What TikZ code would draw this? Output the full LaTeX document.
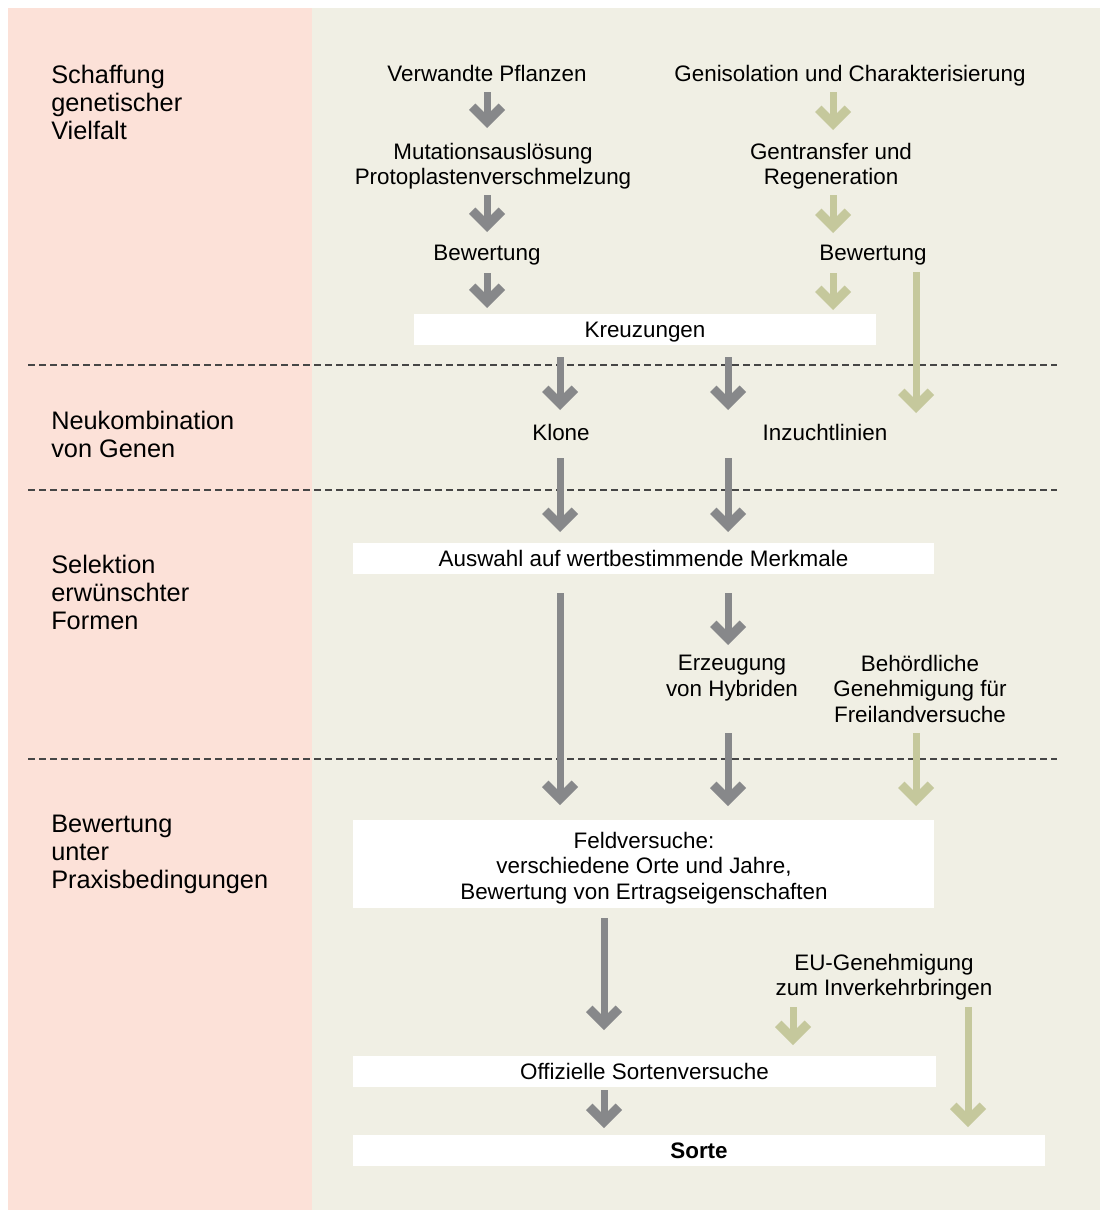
\documentclass[tikz,border=0pt]{standalone}
\usepackage{fontspec}
\setmainfont{Liberation Sans}
\usetikzlibrary{arrows.meta}
\definecolor{pinkbg}{RGB}{252,225,216}
\definecolor{beigebg}{RGB}{240,239,228}
\definecolor{arrgray}{RGB}{135,136,138}
\definecolor{arrgreen}{RGB}{197,200,156}
\definecolor{dashgray}{RGB}{70,70,70}
\begin{document}
\begin{tikzpicture}[x=0.75pt,y=-0.75pt,
  lbl/.style={anchor=north, inner sep=0pt, align=center, font=\fontsize{16.8}{19}\selectfont},
  side/.style={anchor=north west, inner sep=0pt, align=left, font=\fontsize{19}{21}\selectfont},
  wbox/.style={fill=white, draw=none, inner sep=0pt, align=center, minimum height=23.25pt, text height=12.5pt, text depth=0pt, font=\fontsize{16.8}{19}\selectfont},
  bigbox/.style={fill=white, draw=none, inner sep=0pt},
  sep/.style={draw=dashgray, line width=1.2pt, dash pattern=on 5.25pt off 3pt},
  vtip/.style={-{Straight Barb[length=11.1pt,width=22.2pt,line width=6.8pt]}},
  garr/.style={draw=arrgray, line width=5.25pt, vtip},
  carr/.style={draw=arrgreen, line width=5.25pt, vtip}]
\useasboundingbox (0,0) rectangle (1100,1210);
\fill[pinkbg] (8,8) rectangle (312,1210);
\fill[beigebg] (312,8) rectangle (1100,1210);
% separators
\draw[sep] (28,365) -- (1057,365);
\draw[sep] (28,490) -- (1057,490);
\draw[sep] (28,759) -- (1057,759);
% side labels
\node[side] (s1) at (51,65) {Schaffung\\genetischer\\Vielfalt};
\node[side] (s2) at (51,411) {Neukombination\\von Genen};
\node[side] (s3) at (51,555) {Selektion\\erwünschter\\Formen};
\node[side] (s4) at (51,815) {Bewertung\\unter\\Praxisbedingungen};
% texts
\node[lbl] (vp) at (487,65) {Verwandte Pflanzen};
\node[lbl] (gc) at (850,65) {Genisolation und Charakterisierung};
\node[lbl] (mp) at (493,143) {Mutationsauslösung\\Protoplastenverschmelzung};
\node[lbl] (gr) at (831,143) {Gentransfer und\\Regeneration};
\node[lbl] (b1) at (487,245) {Bewertung};
\node[lbl] (b2) at (873,245) {Bewertung};
\node[wbox, minimum width=346.5pt] (kr) at (645,329.5) {Kreuzungen};
\node[lbl] (kl) at (561,424) {Klone};
\node[lbl] (iz) at (825,424) {Inzuchtlinien};
\node[wbox, minimum width=435.75pt] (aw) at (643.5,558.5) {Auswahl auf wertbestimmende Merkmale};
\node[lbl] (ez) at (732,655) {Erzeugung\\von Hybriden};
\node[lbl] (bg) at (920,655) {Behördliche\\Genehmigung für\\Freilandversuche};
\node[bigbox, minimum width=435.75pt, minimum height=66pt] (fv) at (643.5,864) {};
\node[lbl] (fvt) at (644,832) {Feldversuche:\\verschiedene Orte und Jahre,\\Bewertung von Ertragseigenschaften};
\node[lbl] (eu) at (884,954) {EU-Genehmigung\\zum Inverkehrbringen};
\node[wbox, minimum width=437.25pt] (os) at (644.5,1071.5) {Offizielle Sortenversuche};
\node[wbox, minimum width=519pt, font=\fontsize{16.8}{19}\selectfont\bfseries] (so) at (699,1150.5) {Sorte};
% arrow coordinates
\coordinate (g1a) at (487,92);  \coordinate (g1b) at (487,128);
\coordinate (g2a) at (487,195); \coordinate (g2b) at (487,232);
\coordinate (g3a) at (487,273); \coordinate (g3b) at (487,308);
\coordinate (g4a) at (560,357); \coordinate (g4b) at (560,410);
\coordinate (g5a) at (728,357); \coordinate (g5b) at (728,410);
\coordinate (g6a) at (560,458); \coordinate (g6b) at (560,532);
\coordinate (g7a) at (728,458); \coordinate (g7b) at (728,532);
\coordinate (g8a) at (560,593); \coordinate (g8b) at (560,805);
\coordinate (g9a) at (728,593); \coordinate (g9b) at (728,645);
\coordinate (g10a) at (728,733); \coordinate (g10b) at (728,806);
\coordinate (g11a) at (604,918); \coordinate (g11b) at (604,1030);
\coordinate (g12a) at (604,1090); \coordinate (g12b) at (604,1128);
\coordinate (c1a) at (833,92);  \coordinate (c1b) at (833,130);
\coordinate (c2a) at (833,195); \coordinate (c2b) at (833,233);
\coordinate (c3a) at (833,273); \coordinate (c3b) at (833,310);
\coordinate (c4a) at (916,272); \coordinate (c4b) at (916,413);
\coordinate (c5a) at (916,733); \coordinate (c5b) at (916,806);
\coordinate (c6a) at (793,1007); \coordinate (c6b) at (793,1045);
\coordinate (c7a) at (968,1007); \coordinate (c7b) at (968,1127);
\foreach \i in {1,...,12} {\draw[garr] (g\i a) -- (g\i b);}
\foreach \i in {1,...,7} {\draw[carr] (c\i a) -- (c\i b);}
\end{tikzpicture}
\end{document}
